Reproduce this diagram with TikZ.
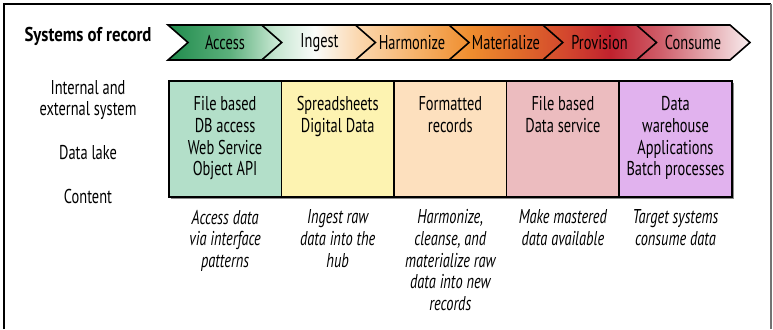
\documentclass[tikz,border=0pt]{standalone}
\usepackage{fontspec}
\setmainfont{PT Sans}[FakeStretch=0.72]
\newfontfamily\titlefont{PT Sans}[FakeStretch=0.84]
\usetikzlibrary{shadows}

% stage colours along the header band
\definecolor{bandA}{HTML}{1F8B4C}
\definecolor{bandB}{HTML}{5CB07C}
\definecolor{bandC}{HTML}{C5E6D0}
\definecolor{bandD}{HTML}{FAFCFA}
\definecolor{bandE}{HTML}{FBD6AC}
\definecolor{bandF}{HTML}{F6B066}
\definecolor{bandG}{HTML}{EF8D2E}
\definecolor{bandH}{HTML}{E06A2A}
\definecolor{bandI}{HTML}{D2442E}
\definecolor{bandJ}{HTML}{C0222E}
\definecolor{bandK}{HTML}{CF5E6A}
\definecolor{bandL}{HTML}{F8EDEE}
% box fills
\definecolor{boxGreen}{HTML}{B3DFC9}
\definecolor{boxYellow}{HTML}{FDF3B1}
\definecolor{boxPeach}{HTML}{FDE0BE}
\definecolor{boxPink}{HTML}{ECBCBF}
\definecolor{boxLilac}{HTML}{E1B2EE}

\pgfdeclarehorizontalshading{stageband}{100bp}{%
  color(0bp)=(bandA); color(25bp)=(bandA); color(30.3bp)=(bandB);
  color(34.2bp)=(bandC); color(37.6bp)=(bandD); color(41.5bp)=(bandE);
  color(46.6bp)=(bandF); color(51bp)=(bandG); color(55.2bp)=(bandH);
  color(59.5bp)=(bandI); color(63bp)=(bandJ); color(67.3bp)=(bandK);
  color(75bp)=(bandL); color(100bp)=(bandL)}

\begin{document}
\begin{tikzpicture}[x=1pt,y=-1pt,
  txt/.style={font=\fontsize{20}{21.6}\selectfont, inner sep=0pt, align=center},
  desc/.style={font=\fontsize{20}{21.6}\selectfont\itshape, inner sep=0pt, align=center, anchor=north},
  stagebox/.style={draw=black, line width=1.6pt, minimum width=112.6pt,
    minimum height=116pt, inner sep=0pt, anchor=north west,
    drop shadow={shadow xshift=2.5pt, shadow yshift=-2.5pt, opacity=0.45, fill=black}},
  outline/.style={draw=black, line width=1.6pt, line join=miter}]
\useasboundingbox (0,0) rectangle (773,329);

% frame
\draw[line width=1.6pt, black] (4,329) -- (4,4) -- (771,4);
\draw[line width=1.2pt, black!55] (771,4) -- (771,329);

% header band of chevrons
\shade[shading=stageband] (168,25) -- (730,25) -- (750,42.5) -- (730,60) -- (168,60) -- (188,42.5) -- cycle;
\draw[outline] (168,25) -- (730,25) -- (750,42.5) -- (730,60) -- (168,60) -- (188,42.5) -- cycle;
\foreach \sx in {261.7,355.4,449,542.8,636.5}
  \draw[outline] (\sx,25) -- (\sx+20,42.5) -- (\sx,60);

\node[txt, font=\fontsize{20}{21.6}\titlefont\bfseries] (title) at (88,36) {Systems of record};
\node[txt] (sAccess) at (225,43) {Access};
\node[txt] (sIngest) at (319.5,43) {Ingest};
\node[txt] (sHarm) at (412,43) {Harmonize};
\node[txt] (sMat) at (506,43) {Materialize};
\node[txt] (sProv) at (599.5,43) {Provision};
\node[txt] (sCons) at (693,43) {Consume};

% row labels
\node[txt] (rSys) at (88,100) {Internal and\\external system};
\node[txt] (rLake) at (88,153) {Data lake};
\node[txt] (rContent) at (88,196) {Content};

% content boxes
\node[stagebox, fill=boxGreen] (b1) at (168,80) {};
\node[stagebox, fill=boxYellow] (b2) at (280.6,80) {};
\node[stagebox, fill=boxPeach] (b3) at (393.2,80) {};
\node[stagebox, fill=boxPink] (b4) at (505.8,80) {};
\node[stagebox, fill=boxLilac] (b5) at (618.4,80) {};

\node[txt, anchor=north] (t1) at ([yshift=-16.5pt]b1.north) {File based\\DB access\\Web Service\\Object API};
\node[txt, anchor=north] (t2) at ([yshift=-16.5pt]b2.north) {Spreadsheets\\Digital Data};
\node[txt, anchor=north] (t3) at ([yshift=-16.5pt]b3.north) {Formatted\\records};
\node[txt, anchor=north] (t4) at ([yshift=-16.5pt]b4.north) {File based\\Data service};
\node[txt, anchor=north] (t5) at ([yshift=-16.5pt]b5.north) {Data\\warehouse\\Applications\\Batch processes};

% descriptions under the boxes
\node[desc] (d1) at ([yshift=-12pt]b1.south) {Access data\\via interface\\patterns};
\node[desc] (d2) at ([yshift=-12pt]b2.south) {Ingest raw\\data into the\\hub};
\node[desc] (d3) at ([yshift=-12pt]b3.south) {Harmonize,\\cleanse, and\\materialize raw\\data into new\\records};
\node[desc] (d4) at ([yshift=-12pt]b4.south) {Make mastered\\data available};
\node[desc] (d5) at ([yshift=-12pt]b5.south) {Target systems\\consume data};
\end{tikzpicture}
\end{document}
